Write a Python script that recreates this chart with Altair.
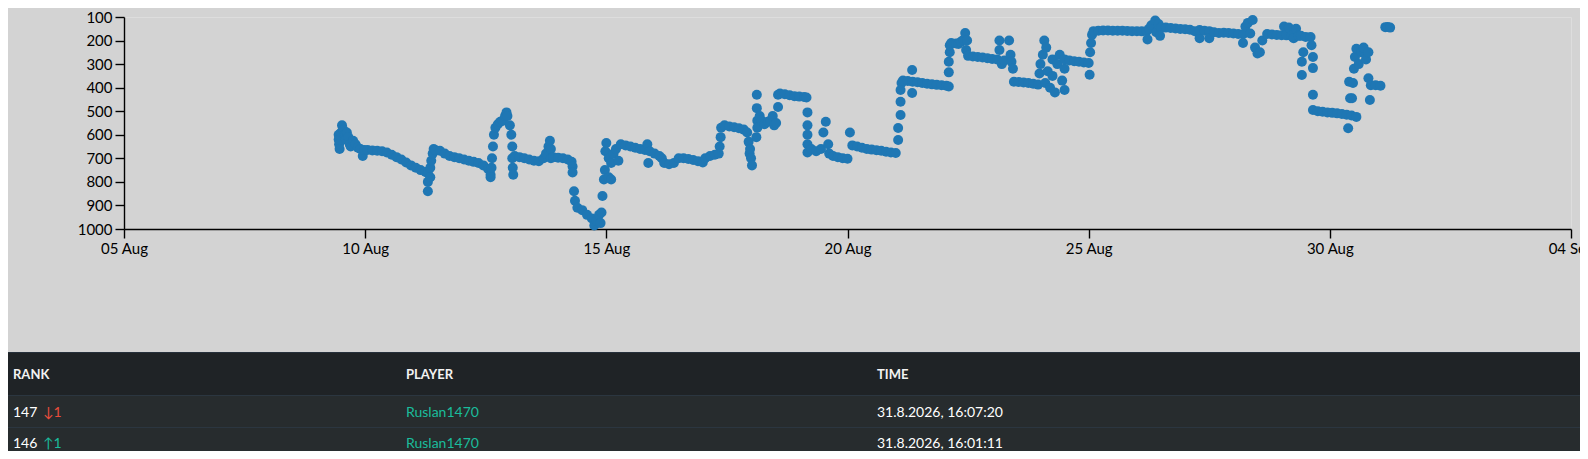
import altair as alt
import pandas as pd
from datetime import datetime, timedelta

# ---------------- data: day of August (decimal) and rank ----------------
day_a = [9.45, 9.45, 9.46, 9.47, 9.50, 9.52, 9.55, 9.58, 9.60, 9.62, 9.65, 9.68, 9.70, 9.75, 9.80, 9.85, 9.90, 9.95, 9.98]
rank_a = [600, 620, 640, 660, 590, 560, 580, 600, 620, 590, 610, 640, 650, 625, 640, 655, 660, 690, 665]

day_b = [10.05, 10.15, 10.25, 10.35, 10.45, 10.55, 10.65, 10.75, 10.85, 10.95, 11.05, 11.15, 11.25, 11.30, 11.30, 11.30]
rank_b = [665, 667, 668, 670, 675, 685, 695, 705, 718, 730, 740, 750, 758, 762, 800, 840]

day_c = [11.35, 11.35, 11.37, 11.40, 11.42, 11.45, 11.55, 11.65, 11.75, 11.85, 11.95, 12.05, 12.15, 12.25, 12.35, 12.45, 12.55, 12.60, 12.60]
rank_c = [780, 740, 710, 680, 660, 665, 668, 680, 690, 695, 700, 705, 710, 715, 720, 730, 745, 770, 780]

day_d = [12.62, 12.63, 12.65, 12.67, 12.70, 12.75, 12.80, 12.85, 12.90, 12.93, 12.95, 13.00, 13.03, 13.05, 13.05, 13.06, 13.07]
rank_d = [740, 700, 650, 600, 570, 555, 545, 540, 520, 505, 520, 560, 600, 650, 700, 740, 770]

day_e = [13.10, 13.20, 13.30, 13.40, 13.50, 13.60, 13.70, 13.75, 13.80, 13.83, 13.85, 13.85, 13.90, 14.00, 14.10, 14.20, 14.28, 14.30, 14.30]
rank_e = [690, 695, 700, 705, 710, 712, 700, 680, 650, 625, 660, 700, 695, 697, 700, 705, 715, 735, 760]

day_f = [14.33, 14.35, 14.40, 14.50, 14.60, 14.70, 14.75, 14.80, 14.85, 14.88, 14.90, 14.92, 14.95, 14.97, 14.98, 15.00, 15.05, 15.05, 15.10, 15.10, 15.15, 15.20, 15.25]
rank_f = [840, 880, 910, 920, 940, 955, 985, 965, 940, 975, 930, 860, 790, 750, 670, 635, 700, 780, 720, 790, 680, 660, 710]

day_g = [15.30, 15.40, 15.50, 15.60, 15.70, 15.80, 15.85, 15.87, 15.90, 16.00, 16.10, 16.15, 16.20, 16.30, 16.40, 16.50]
rank_g = [640, 645, 650, 655, 660, 665, 640, 720, 670, 680, 690, 700, 720, 725, 720, 700]

day_h = [16.60, 16.70, 16.80, 16.90, 17.00, 17.05, 17.15, 17.25, 17.33, 17.35, 17.37, 17.38, 17.45, 17.55, 17.65, 17.75, 17.85, 17.92]
rank_h = [700, 703, 707, 712, 718, 700, 690, 685, 680, 650, 610, 570, 560, 565, 568, 572, 578, 590]

day_i = [17.95, 17.97, 17.98, 18.00, 18.02, 18.11, 18.12, 18.12, 18.13, 18.13, 18.18, 18.22, 18.28, 18.35, 18.40, 18.45, 18.48, 18.52]
rank_i = [630, 680, 660, 700, 730, 610, 430, 487, 540, 570, 520, 540, 555, 545, 540, 520, 560, 550]

day_j = [18.56, 18.56, 18.60, 18.70, 18.80, 18.90, 19.00, 19.10, 19.15, 19.17, 19.17, 19.17, 19.17, 19.17]
rank_j = [482, 430, 425, 428, 432, 436, 438, 440, 442, 505, 560, 600, 640, 675]

day_k = [19.25, 19.35, 19.45, 19.50, 19.55, 19.60, 19.62, 19.70, 19.80, 19.90, 20.00, 20.05, 20.10, 20.20, 20.30, 20.40, 20.50, 20.60, 20.70, 20.80, 20.90, 21.00]
rank_k = [660, 670, 660, 590, 545, 640, 680, 690, 695, 700, 702, 590, 645, 650, 655, 660, 663, 666, 668, 672, 675, 677]

day_l = [21.05, 21.05, 21.10, 21.10, 21.10, 21.12, 21.15, 21.25, 21.34, 21.34, 21.35, 21.45, 21.55, 21.65, 21.75, 21.85, 21.95, 22.05, 22.10]
rank_l = [622, 571, 516, 460, 410, 380, 370, 372, 325, 423, 375, 377, 380, 383, 386, 388, 390, 392, 395]

day_m = [22.10, 22.10, 22.12, 22.12, 22.15, 22.25, 22.30, 22.35, 22.40, 22.44, 22.48, 22.46]
rank_m = [335, 290, 250, 220, 210, 212, 215, 205, 198, 168, 200, 240]

day_n = [22.50, 22.60, 22.70, 22.80, 22.90, 23.00, 23.10, 23.15, 23.15, 23.20, 23.25, 23.35, 23.38, 23.40, 23.43]
rank_n = [265, 268, 270, 272, 275, 278, 280, 200, 240, 300, 285, 200, 260, 290, 320]

day_o = [23.45, 23.55, 23.65, 23.75, 23.85, 23.95, 23.98, 24.00, 24.05, 24.08, 24.12, 24.10, 24.15, 24.20, 24.25, 24.25, 24.30, 24.35, 24.40, 24.45, 24.50, 24.50]
rank_o = [375, 376, 378, 380, 383, 387, 340, 300, 260, 200, 230, 380, 330, 400, 350, 280, 420, 300, 260, 370, 320, 410]

day_p = [24.50, 24.60, 24.70, 24.80, 24.90, 25.00, 25.02, 25.03, 25.05, 25.07]
rank_p = [280, 285, 288, 290, 293, 295, 345, 250, 210, 175]

day_q = [25.10, 25.20, 25.30, 25.40, 25.50, 25.60, 25.70, 25.80, 25.90, 26.00, 26.10, 26.20, 26.22, 26.25, 26.30, 26.38, 26.40, 26.45, 26.50, 26.48]
rank_q = [160, 158, 157, 157, 158, 158, 158, 159, 160, 160, 161, 160, 195, 150, 135, 115, 165, 130, 145, 180]

day_r = [26.60, 26.70, 26.80, 26.90, 27.00, 27.10, 27.20, 27.30, 27.30, 27.40, 27.50, 27.50, 27.60, 27.70, 27.80, 27.90, 28.00, 28.10, 28.20]
rank_r = [145, 147, 149, 151, 152, 154, 160, 190, 155, 158, 160, 190, 165, 168, 167, 168, 170, 172, 173]

day_s = [28.20, 28.25, 28.30, 28.35, 28.40, 28.45, 28.50, 28.55, 28.60, 28.70, 28.80, 28.90, 29.00, 29.05, 29.10, 29.15, 29.20, 29.25, 29.30, 29.35, 29.40, 29.42, 29.42, 29.45, 29.50, 29.60, 29.62, 29.65, 29.65]
rank_s = [210, 140, 125, 170, 113, 230, 255, 250, 200, 172, 174, 176, 177, 140, 178, 145, 180, 190, 150, 180, 180, 290, 346, 250, 185, 185, 220, 270, 317]

day_t = [29.65, 29.65, 29.75, 29.85, 29.95, 30.05, 30.15, 30.25, 30.35, 30.45, 30.55, 30.38, 30.40, 30.42]
rank_t = [430, 495, 500, 502, 505, 507, 509, 512, 515, 518, 524, 572, 375, 445]

day_u = [30.46, 30.48, 30.50, 30.52, 30.55, 30.60, 30.65, 30.70, 30.75, 30.80, 30.83, 30.80, 30.85, 30.95, 31.05, 31.15, 31.20, 31.25]
rank_u = [445, 380, 320, 270, 235, 300, 250, 230, 280, 360, 452, 250, 390, 390, 392, 143, 142, 145]

days = (day_a + day_b + day_c + day_d + day_e + day_f + day_g + day_h + day_i + day_j + day_k
        + day_l + day_m + day_n + day_o + day_p + day_q + day_r + day_s + day_t + day_u)
ranks = (rank_a + rank_b + rank_c + rank_d + rank_e + rank_f + rank_g + rank_h + rank_i + rank_j + rank_k
         + rank_l + rank_m + rank_n + rank_o + rank_p + rank_q + rank_r + rank_s + rank_t + rank_u)

base = datetime(2026, 8, 1)
times = [(base + timedelta(days=d - 1)).strftime("%Y-%m-%dT%H:%M:%S") for d in days]
df = pd.DataFrame({"time": times, "rank": ranks})

y_ticks = [100, 200, 300, 400, 500, 600, 700, 800, 900, 1000]
x_tick_days = [(8, 5), (8, 10), (8, 15), (8, 20), (8, 25), (8, 30), (9, 4)]

# table content
header_labels = ["RANK", "PLAYER", "TIME"]
row_ranks = ["147", "146"]
row_changes = ["\u21931", "\u21911"]
row_change_colors = ["#e74c3c", "#1abc9c"]
row_players = ["Ruslan1470", "Ruslan1470"]
row_times = ["31.8.2026, 16:07:20", "31.8.2026, 16:01:11"]

FONT = "Lato"

points = alt.Chart(df).mark_circle(size=100, opacity=1, color="#1f77b4").encode(
    x=alt.X("time:T",
            scale=alt.Scale(domain=[alt.DateTime(year=2026, month=8, date=5),
                                    alt.DateTime(year=2026, month=9, date=4)], nice=False),
            axis=alt.Axis(values=[alt.DateTime(year=2026, month=m, date=d) for m, d in x_tick_days],
                          format="%d %b", title=None, grid=False, labelFont=FONT, labelFontSize=15,
                          labelColor="#000", tickColor="#000", domainColor="#000", tickSize=9,
                          domainWidth=1.4, tickWidth=1.4, labelPadding=3, labelFlush=False,
                          labelOverlap=False)),
    y=alt.Y("rank:Q",
            scale=alt.Scale(domain=[100, 1000], reverse=True, nice=False, zero=False),
            axis=alt.Axis(values=y_ticks, format="d", title=None, grid=False, labelFont=FONT,
                          labelFontSize=15, labelColor="#000", tickColor="#000", domainColor="#000",
                          tickSize=9, domainWidth=1.4, tickWidth=1.4, labelPadding=3,
                          labelFlush=False, labelOverlap=False)),
)

dummy = pd.DataFrame({"k": [0]})

def rect(x1, x2, y1, y2, color):
    return alt.Chart(dummy).mark_rect(color=color).encode(
        x=alt.value(x1), x2=alt.value(x2), y=alt.value(y1), y2=alt.value(y2))

def txt(s, x, y, color, size=14, weight="normal"):
    return alt.Chart(dummy).mark_text(align="left", baseline="alphabetic", font=FONT,
                                      fontSize=size, fontWeight=weight, color=color).encode(
        x=alt.value(x), y=alt.value(y), text=alt.value(s))

L, R = -116, 1460
table_layers = [
    rect(L, R, 335, 378, "#1f2326"),
    rect(L, R, 378, 440, "#272c2e"),
    rect(L, R, 335, 336, "#26303b"),
    rect(L, R, 378, 379, "#2b3640"),
    rect(L, R, 410, 411, "#2b3640"),
]
col_x = [-111, 282, 753]
for lab, cx in zip(header_labels, col_x):
    table_layers.append(txt(lab, cx, 362, "#f2f2f2", size=13, weight="bold"))
row_y = [400, 431]
for i, ry in enumerate(row_y):
    table_layers.append(txt(row_ranks[i], col_x[0], ry, "#ffffff"))
    table_layers.append(txt(row_changes[i], -81, ry, row_change_colors[i]))
    table_layers.append(txt(row_players[i], col_x[1], ry, "#1abc9c"))
    table_layers.append(txt(row_times[i], col_x[2], ry, "#ffffff"))

chart = alt.layer(points, *table_layers).properties(
    width=1447, height=212,
    padding={"left": 116, "top": 9, "right": 9, "bottom": 222},
    autosize=alt.AutoSizeParams(type="none"),
).configure_view(stroke=None).configure(background="#d3d3d3")

chart.save("out.html", embed_options={"renderer": "svg", "actions": False})
